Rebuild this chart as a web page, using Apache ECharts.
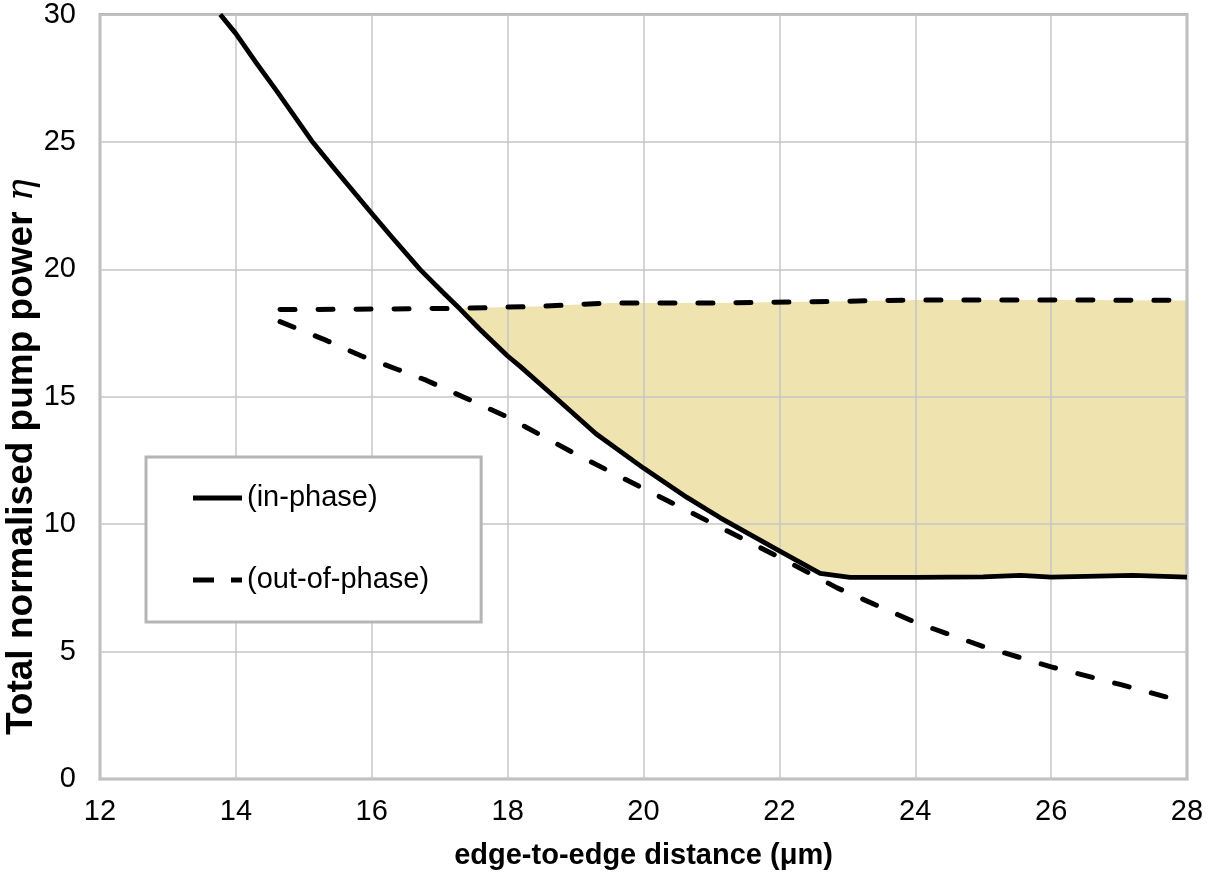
<!DOCTYPE html>
<html>
<head>
<meta charset="utf-8">
<script src="https://cdn.jsdelivr.net/npm/echarts@6/dist/echarts.min.js"></script>
<style>
  html, body { margin: 0; padding: 0; background: #fff; }
  #chart { width: 1217px; height: 876px; }
</style>
</head>
<body>
<div id="chart"></div>
<script>
// in-phase threshold (solid)
var inPhaseX = [13.77, 14.0, 14.3, 14.6, 15.12, 15.46, 15.97, 16.27, 16.71, 17.05, 17.3, 17.59, 18.0, 18.18, 18.67, 19.3, 20.0, 20.64, 21.13, 22.0, 22.6, 23.04, 24.0, 25.0, 25.55, 26.0, 27.2, 28.0];
var inPhaseY = [30, 29.25, 28.1, 27.0, 25.03, 23.92, 22.29, 21.35, 20.0, 19.09, 18.44, 17.65, 16.6, 16.2, 15.05, 13.55, 12.2, 11.05, 10.25, 8.95, 8.07, 7.91, 7.91, 7.93, 7.99, 7.92, 7.99, 7.92];

// out-of-phase thresholds (dashed): upper and lower branches
var outUpperX = [14.65, 16.0, 17.3, 18.5, 19.5, 21.0, 23.0, 24.0, 26.0, 28.0];
var outUpperY = [18.42, 18.44, 18.47, 18.55, 18.68, 18.68, 18.75, 18.8, 18.8, 18.78];
var outLowerX = [14.65, 15.34, 15.85, 16.39, 16.8, 18.0, 19.0, 20.0, 21.0, 22.0, 22.85, 24.0, 25.0, 26.0, 27.0, 28.0];
var outLowerY = [17.95, 17.2, 16.6, 16.06, 15.65, 14.2, 12.75, 11.4, 10.05, 8.7, 7.5, 6.15, 5.2, 4.4, 3.72, 3.0];

var xTicks = [12, 14, 16, 18, 20, 22, 24, 26, 28];
var yTicks = [0, 5, 10, 15, 20, 25, 30];
var fillStart = 17.3;

function pairs(xs, ys) {
  return xs.map(function (x, i) { return [x, ys[i]]; });
}

var chart = echarts.init(document.getElementById('chart'));
var font = '"Liberation Sans", Arial, sans-serif';
var dash = [15, 23];

var option = {
  animation: false,
  textStyle: { fontFamily: font },
  grid: {
    left: 100, right: 30, top: 14, bottom: 97,
    show: true, borderColor: '#b5b5b5', borderWidth: 3, backgroundColor: 'transparent'
  },
  xAxis: {
    type: 'value', min: xTicks[0], max: xTicks[xTicks.length - 1], interval: 2,
    name: 'edge-to-edge distance (μm)', nameLocation: 'middle', nameGap: 62,
    nameTextStyle: { fontSize: 29, fontWeight: 'bold', color: '#000', fontFamily: font },
    axisLine: { show: false }, axisTick: { show: false },
    axisLabel: { fontSize: 29, color: '#000', margin: 18, fontFamily: font },
    splitLine: { lineStyle: { color: '#c6c6c6', width: 1.5 } }
  },
  yAxis: {
    type: 'value', min: yTicks[0], max: yTicks[yTicks.length - 1], interval: 5,
    axisLine: { show: false }, axisTick: { show: false },
    axisLabel: { fontSize: 29, color: '#000', margin: 24, fontFamily: font },
    splitLine: { lineStyle: { color: '#c6c6c6', width: 1.5 } }
  },
  legend: {
    orient: 'vertical', left: 146, top: 457,
    padding: [26, 52, 27, 47],
    itemGap: 52, itemWidth: 49, itemHeight: 5,
    selectedMode: false,
    backgroundColor: '#fff', borderColor: '#b5b5b5', borderWidth: 3,
    textStyle: { fontSize: 29, lineHeight: 30, color: '#000', fontFamily: font },
    data: [
      { name: '(in-phase)', icon: 'path://M0,0h49v5h-49z' },
      { name: '(out-of-phase)', icon: 'path://M0,0h21v5h-21z M38,0h11v5h-11z' }
    ]
  },
  graphic: [{
    type: 'text', x: 22, y: 457, rotation: Math.PI / 2,
    style: {
      text: '{b|Total normalised pump power }{e|η}',
      align: 'center', verticalAlign: 'middle',
      rich: {
        b: { fontSize: 37, fontWeight: 'bold', fontFamily: font, fill: '#000' },
        e: { fontSize: 37, fontStyle: 'italic', fontFamily: '"DejaVu Serif", serif', fill: '#000' }
      }
    }
  }],
  series: [
    {
      type: 'custom', z: -1, silent: true,
      coordinateSystem: 'cartesian2d',
      data: [[fillStart, outUpperY[2]]],
      renderItem: function (params, api) {
        var pts = [];
        outUpperX.forEach(function (x, i) { if (x >= fillStart) pts.push(api.coord([x, outUpperY[i]])); });
        for (var i = inPhaseX.length - 1; i >= 0; i--) {
          if (inPhaseX[i] >= fillStart) pts.push(api.coord([inPhaseX[i], inPhaseY[i]]));
        }
        return { type: 'polygon', shape: { points: pts }, style: { fill: '#efe3b0' } };
      }
    },
    {
      name: '(in-phase)', type: 'line', symbol: 'none', smooth: false,
      data: pairs(inPhaseX, inPhaseY),
      lineStyle: { color: '#000', width: 4.8, join: 'round' }, itemStyle: { color: '#000' }
    },
    {
      name: '(out-of-phase)', type: 'line', symbol: 'none', smooth: false,
      data: pairs(outUpperX, outUpperY),
      lineStyle: { color: '#000', width: 5, type: dash, cap: 'round' }, itemStyle: { color: '#000' }
    },
    {
      name: '(out-of-phase)', type: 'line', symbol: 'none', smooth: false,
      data: pairs(outLowerX, outLowerY),
      lineStyle: { color: '#000', width: 5, type: dash, cap: 'round' }, itemStyle: { color: '#000' }
    }
  ]
};
chart.setOption(option);
</script>
</body>
</html>
